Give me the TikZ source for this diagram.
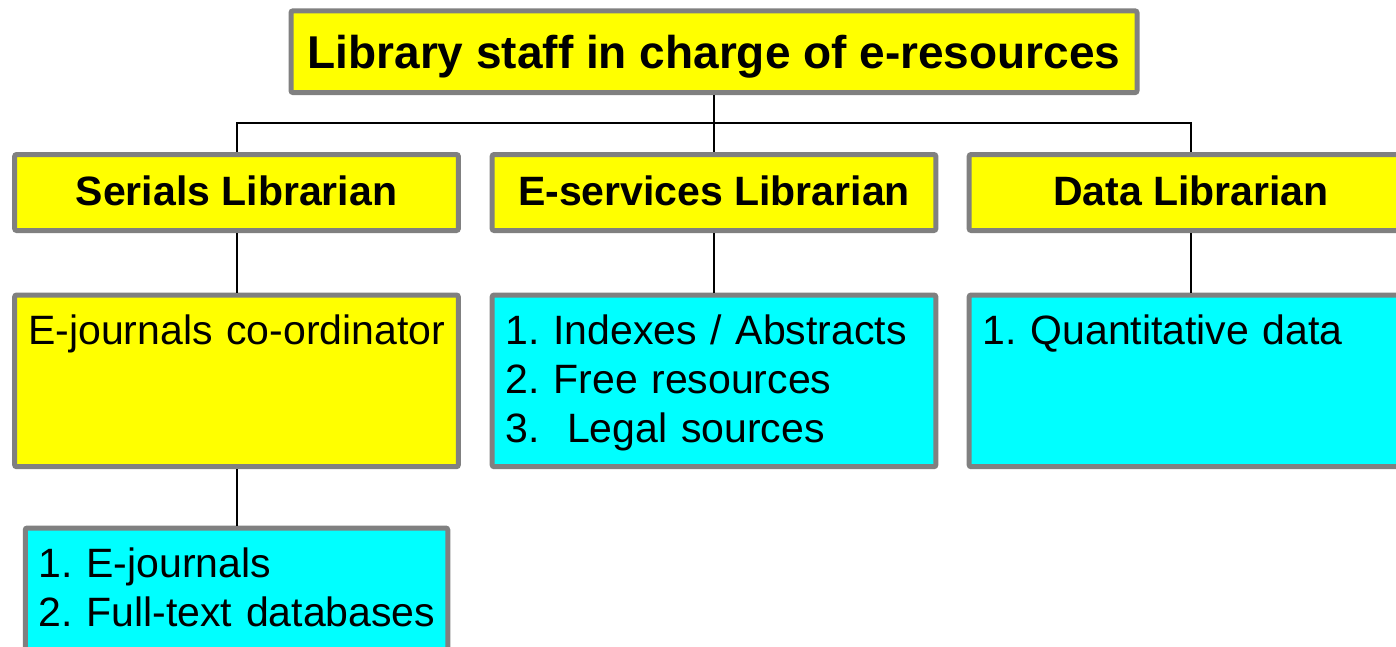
\documentclass[tikz,border=0pt]{standalone}
\usepackage{fontspec}
\setmainfont{Liberation Sans}
\definecolor{boxgray}{RGB}{128,128,128}
\definecolor{boxyellow}{RGB}{255,255,0}
\definecolor{boxcyan}{RGB}{0,255,255}
\begin{document}
\frenchspacing
\begin{tikzpicture}[x=1pt,y=-1pt,
  box/.style={draw=boxgray, line width=5pt, rounded corners=2pt, inner sep=0pt},
  head/.style={box, fill=boxyellow, font=\fontsize{41}{49}\selectfont\bfseries,
    minimum width=443.7pt, minimum height=76pt, text height=30pt, text depth=5pt},
  listbox/.style={box, inner xsep=13.5pt, inner ysep=0pt, text width=416.7pt,
    align=left, text height=49.5pt, text depth=122.2pt,
    font=\fontsize{41}{49.2}\selectfont},
  conn/.style={line width=2pt, black}]
\clip (0,0) rectangle (1396,646);
\fill[white] (0,0) rectangle (1396,646);
\node[box, fill=boxyellow, font=\fontsize{46}{55}\selectfont\bfseries,
  minimum width=846pt, minimum height=81.7pt, text height=36pt, text depth=3.4pt]
  (top) at (714,51.7) {Library staff in charge of e-resources};
\node[head] (ser) at (236.5,192.5) {Serials Librarian};
\node[head] (esv) at (714,192.5) {E-services Librarian};
\node[head] (dat) at (1191,192.5) {Data Librarian};
\node[listbox, fill=boxyellow, anchor=north] (ejc) at (236.5,292.5)
  {\mbox{E-journals co-ordinator}};
\node[listbox, fill=boxcyan, anchor=north] (esl) at (714,292.5)
  {\mbox{1. Indexes / Abstracts}\\\mbox{2. Free resources}\\\mbox{3.\ \ Legal sources}};
\node[listbox, fill=boxcyan, anchor=north] (dal) at (1191,292.5)
  {\mbox{1. Quantitative data}};
\node[listbox, fill=boxcyan, anchor=north, text width=395.5pt] (ejl) at (236.5,525.5)
  {\mbox{1. E-journals}\\\mbox{2. Full-text databases}};
\coordinate (bus) at (714,123.3);
\draw[conn] (top.south) -- (bus);
\draw[conn] (bus) -| (ser.north);
\draw[conn] (bus) -- (esv.north);
\draw[conn] (bus) -| (dat.north);
\draw[conn] (ser.south) -- (ejc.north);
\draw[conn] (esv.south) -- (esl.north);
\draw[conn] (dat.south) -- (dal.north);
\draw[conn] (ejc.south) -- (ejl.north);
\end{tikzpicture}
\end{document}
